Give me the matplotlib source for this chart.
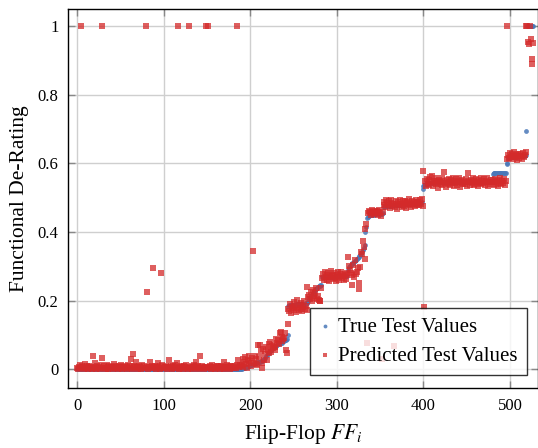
import numpy as np
import matplotlib
matplotlib.use("Agg")
import matplotlib.pyplot as plt
from matplotlib.ticker import FuncFormatter

# ---------------- data (values in thousandths) ----------------
# True test values, by segment of flip-flop index
true_a = [0] * 190                      # FF 0-189
true_b = [2, 3, 3, 4, 5, 6, 7, 8, 9, 10, 12, 13, 14, 16, 17, 18, 19, 20, 21, 21,
          22, 23, 24, 25, 26, 28, 31, 34, 38, 42, 46, 49, 52, 55, 58, 60, 62, 64, 66, 68,
          69, 71, 73, 74, 76, 77, 78, 80, 82, 84, 85, 87, 89, 100]
true_c = [186, 187, 187, 188, 188, 188, 189, 189, 189, 190, 190, 190, 190, 191, 191, 191,
          191, 192, 192, 192, 193, 193]
true_d = [195, 200, 205, 210, 214, 218, 222, 226, 229, 232, 235, 238, 240, 242, 244, 245, 246]
true_e = [268, 268, 268, 269, 269, 269, 269, 269, 270, 270, 270, 270, 270, 270, 270, 271,
          271, 271, 271, 271, 271, 271, 272, 272, 272, 272, 272, 272, 272, 272]
true_f = [290, 298, 302, 305, 308, 310, 311, 314, 316, 318, 321, 324, 327, 330, 333, 337,
          341, 348, 355, 363, 400, 414, 440]
true_g = [445, 448, 450, 450, 450, 451, 451, 451, 452, 452, 452, 452, 453, 453, 453, 454, 454, 455]
true_h = [474, 475, 475, 476, 476, 476, 477, 477, 477, 477, 478, 478, 478, 478, 478, 479,
          479, 479, 479, 479, 480, 480, 480, 480, 480, 481, 481, 481, 481, 481, 482, 482,
          482, 482, 483, 483, 483, 483, 484, 484, 484, 485, 485, 486, 487]
true_i = [525, 533]
true_j = [538, 540, 541, 542, 543, 543, 544, 544, 544, 544, 545, 545, 545, 545, 545, 545,
          545, 545, 545, 545, 545, 545, 545, 545, 545, 545, 545, 545, 545, 545, 545, 545,
          546, 546, 546, 546, 546, 546, 546, 546, 546, 546, 546, 546, 546, 546, 546, 546,
          546, 546, 546, 546, 546, 546, 546, 546, 547, 547, 547, 547, 547, 547, 547, 547,
          547, 547, 547, 547, 547, 547, 547, 547, 547, 548, 548, 548, 548, 548, 548]
true_k = [570, 571, 571, 571, 572, 572, 572, 572, 572, 572, 572, 572, 573, 573, 573, 573]
true_l = [599, 601]
true_m = [615, 617, 618, 618, 619, 619, 619, 620, 620, 620, 620, 620, 621, 621, 621, 621,
          622, 622, 623, 623, 624]
true_n = [695]
true_top = [1000, 1000, 1000, 1000, 1000, 1000, 1000, 1000]

# Predicted test values, same segments
pred_a = [5, 2, 8, 12, 1000, 3, 10, 6, 1, 15,
          4, 9, 2, 7, 11, 3, 6, 0, 38, 5,
          18, 8, 2, 10, 4, 6, 1, 12, 33, 1000,
          3, 9, 5, 2, 14, 7, 0, 10, 4, 6,
          8, 2, 15, 5, 11, 3, 7, 1, 9, 4,
          6, 12, 2, 8, 3, 10, 5, 0, 7, 13,
          4, 9, 30, 2, 45, 6, 11, 3, 23, 8,
          1, 10, 5, 7, 2, 12, 4, 9, 3, 1000,
          6, 225, 2, 8, 23, 5, 11, 295, 3, 7,
          10, 2, 6, 18, 4, 9, 1, 282, 12, 5,
          3, 8, 6, 11, 2, 7, 27, 4, 10, 1,
          6, 9, 3, 12, 5, 18, 1000, 2, 8, 4,
          11, 6, 1, 9, 3, 7, 13, 5, 2, 1000,
          8, 4, 10, 2, 6, 12, 3, 21, 7, 1,
          9, 5, 40, 3, 11, 6, 2, 8, 4, 1000,
          7, 1000, 3, 10, 1, 6, 12, 4, 8, 2,
          5, 11, 3, 9, 6, 1, 10, 4, 7, 23,
          2, 8, 5, 12, 3, 6, 9, 1, 11, 4,
          7, 3, 10, 5, 14, 1000, 28, 6, 12, 9]
pred_b = [12, 30, 8, 22, 35, 15, 5, 28, 18, 38,
          25, 10, 32, 345, 20, 40, 15, 30, 12, 72,
          35, 70, 55, 20, 4, 60, 28, 45, 65, 28,
          58, 48, 75, 80, 52, 68, 63, 70, 66, 58,
          90, 78, 85, 73, 107, 110, 82, 95, 88, 92,
          105, 57, 47, 133]
pred_c = [175, 170, 190, 165, 182, 178, 196, 172, 185, 168, 203, 180, 174, 188, 176, 193,
          170, 181, 198, 177, 186, 172]
pred_d = [241, 212, 218, 205, 227, 198, 232, 215, 208, 222, 238, 206, 214, 203, 198, 200, 236]
pred_e = [265, 278, 260, 284, 270, 262, 275, 281, 258, 268, 287, 272, 263, 276, 280, 266,
          259, 274, 283, 270, 262, 278, 285, 267, 273, 261, 279, 276, 264, 282]
pred_f = [327, 300, 290, 282, 275, 246, 305, 268, 319, 278, 285, 295, 233, 251, 298, 342,
          335, 373, 358, 321, 410, 425, 78]
pred_g = [455, 462, 458, 451, 465, 457, 460, 453, 463, 456, 461, 450, 458, 464, 455, 448, 31, 459]
pred_h = [480, 488, 472, 493, 484, 478, 490, 470, 486, 495, 476, 482, 69, 474, 491, 483,
          468, 487, 479, 494, 481, 473, 490, 485, 477, 492, 471, 488, 483, 496, 479, 486,
          474, 491, 482, 489, 476, 493, 485, 480, 488, 478, 494, 483, 497]
pred_i = [476, 578]
pred_j = [183, 548, 535, 556, 541, 552, 538, 560, 545, 564, 533, 550, 543, 557, 539, 548,
          530, 553, 546, 541, 558, 536, 549, 575, 544, 531, 552, 540, 555, 547, 537, 551,
          543, 559, 534, 548, 542, 554, 538, 546, 557, 532, 549, 544, 553, 539, 547, 541,
          556, 535, 550, 572, 545, 538, 552, 543, 558, 536, 549, 540, 554, 546, 533, 551,
          544, 557, 539, 548, 542, 555, 537, 550, 545, 559, 534, 547, 541, 553, 546]
pred_k = [552, 538, 547, 556, 541, 549, 535, 553, 544, 558, 539, 550, 543, 555, 537, 548]
pred_l = [612, 1000]
pred_m = [624, 615, 630, 619, 627, 612, 622, 633, 618, 626, 611, 629, 621, 616, 628, 623,
          614, 631, 620, 625, 632]
pred_n = [1000]
pred_top = [1000, 955, 948, 1000, 962, 905, 890, 950]

true_all = (true_a + true_b + true_c + true_d + true_e + true_f + true_g + true_h + true_i
            + true_j + true_k + true_l + true_m + true_n + true_top)
pred_all = (pred_a + pred_b + pred_c + pred_d + pred_e + pred_f + pred_g + pred_h + pred_i
            + pred_j + pred_k + pred_l + pred_m + pred_n + pred_top)

x_ticks = [0, 100, 200, 300, 400, 500]
y_ticks = [0, 0.2, 0.4, 0.6, 0.8, 1.0]

ff = np.arange(len(true_all))
true_vals = np.array(true_all) / 1000.0
pred_vals = np.array(pred_all) / 1000.0

# ---------------- plot ----------------
plt.rcParams['font.family'] = ['Liberation Serif', 'DejaVu Serif']
plt.rcParams['mathtext.fontset'] = 'stix'

fig = plt.figure(figsize=(5.38, 4.48), dpi=100)
ax = fig.add_axes([68.3 / 538, 60 / 448, (538 - 68.3) / 538, (388 - 9) / 448])

ax.scatter(ff, true_vals, s=12, marker='o', color='#4a78b8', alpha=0.85,
           linewidths=0, label='True Test Values', zorder=3)
ax.scatter(ff, pred_vals, s=15, marker='s', color='#d42a2a', alpha=0.75,
           linewidths=0, label='Predicted Test Values', zorder=4)

ax.set_xlim(-10.4, 532.4)
ax.set_ylim(-0.054, 1.05)
ax.set_xticks(x_ticks)
ax.set_yticks(y_ticks)
ax.yaxis.set_major_formatter(FuncFormatter(lambda v, p: f"{v:g}"))
ax.grid(True, color='#cfcfcf', linewidth=1.0, zorder=0)
ax.set_axisbelow(True)
ax.tick_params(direction='in', length=5, width=1, color='#888888',
               top=True, right=True, labelsize=12, pad=7)
for sp in ax.spines.values():
    sp.set_linewidth(1.0)
    sp.set_color('black')

ax.set_xlabel('Flip-Flop $FF_i$', fontsize=15.5, labelpad=6)
ax.set_ylabel('Functional De-Rating', fontsize=15.5, labelpad=6)

leg = ax.legend(loc='lower right', bbox_to_anchor=(0.976, 0.034), borderaxespad=0,
                fontsize=15, frameon=True, fancybox=False, edgecolor='black',
                framealpha=0.8, handletextpad=0.3, handlelength=0.6, borderpad=0.45,
                labelspacing=0.45, markerscale=0.8)
leg.get_frame().set_linewidth(1.0)

fig.savefig('out.png', dpi=100)
